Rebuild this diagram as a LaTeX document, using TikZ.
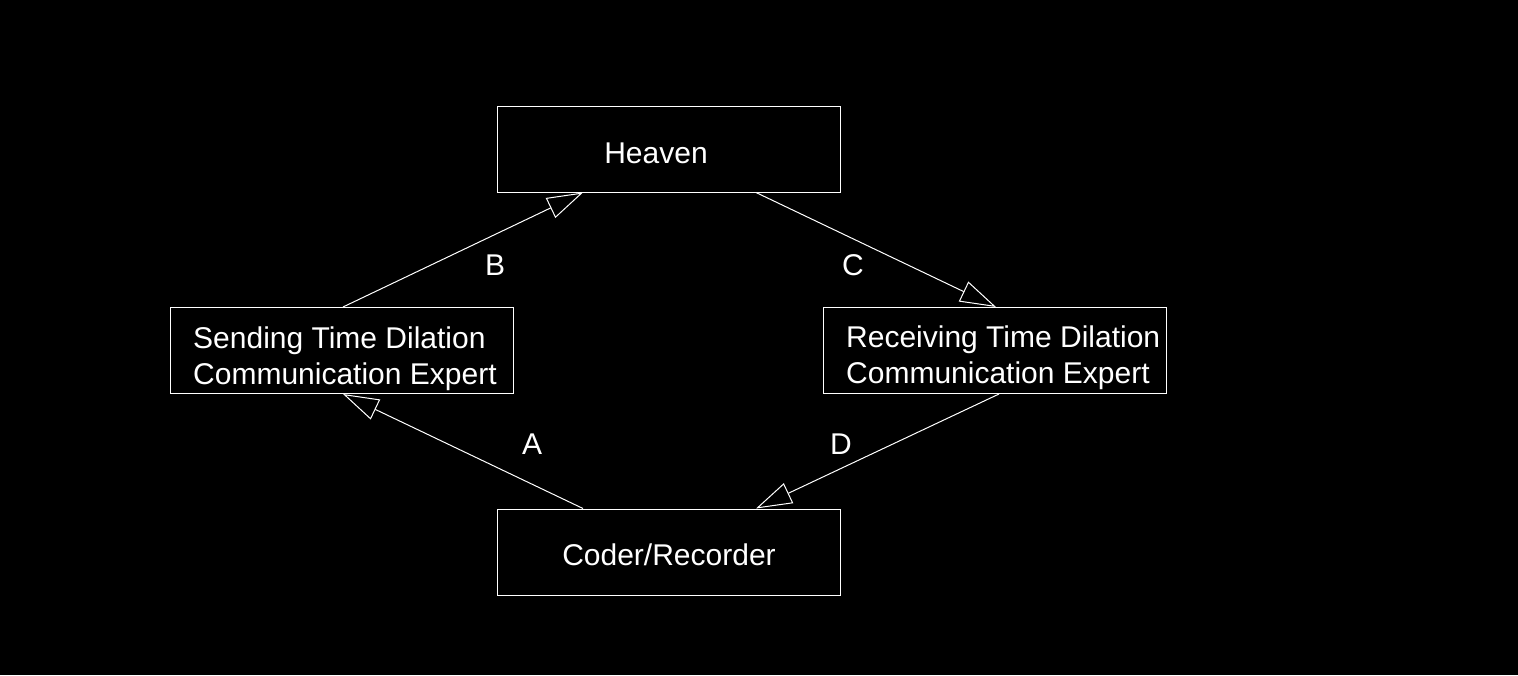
\documentclass[tikz,border=0pt]{standalone}
\usepackage{fontspec}
\setmainfont{Liberation Sans}
\usetikzlibrary{arrows.meta}
\begin{document}
\begin{tikzpicture}[x=1pt,y=-1pt,
  box/.style={draw=white,line width=1pt,minimum width=343pt,minimum height=86pt,inner sep=0pt,rectangle},
  txt/.style={text=white,font=\fontsize{30}{36}\selectfont,align=center,inner sep=0pt},
  ltxt/.style={text=white,font=\fontsize{30}{36}\selectfont,align=left,inner sep=0pt,anchor=west},
  lab/.style={text=white,font=\fontsize{30}{36}\selectfont,inner sep=0pt},
  flow/.style={draw=white,line width=1pt,-{Triangle[open,length=36pt,width=22pt,fill=black]}}]
\fill[black] (0,0) rectangle (1518,675);
\useasboundingbox (0,0) rectangle (1518,675);
\node[box] (heaven) at (668.5,149) {};
\node[box] (send) at (342,350.5) {};
\node[box] (recv) at (995,350.5) {};
\node[box] (coder) at (668.5,552) {};
\node[txt] (theaven) at (656,153) {Heaven};
\node[ltxt] (tsend) at (193,359) {Sending Time Dilation\\Communication Expert};
\node[ltxt] (trecv) at (846,358) {Receiving Time Dilation\\Communication Expert};
\node[txt] (tcoder) at (669,555) {Coder/Recorder};
\draw[flow] ([xshift=1pt]send.north) -- ([xshift=-85.5pt]heaven.south);
\draw[flow] ([xshift=87.5pt]heaven.south) -- ([xshift=1pt]recv.north);
\draw[flow] ([xshift=-85.5pt]coder.north) -- ([xshift=1pt]send.south);
\draw[flow] ([xshift=4pt]recv.south) -- ([xshift=87.5pt]coder.north);
\node[lab] (lb) at (495,265) {B};
\node[lab] (lc) at (853,265) {C};
\node[lab] (la) at (532,444) {A};
\node[lab] (ld) at (841,444) {D};
\end{tikzpicture}
\end{document}
